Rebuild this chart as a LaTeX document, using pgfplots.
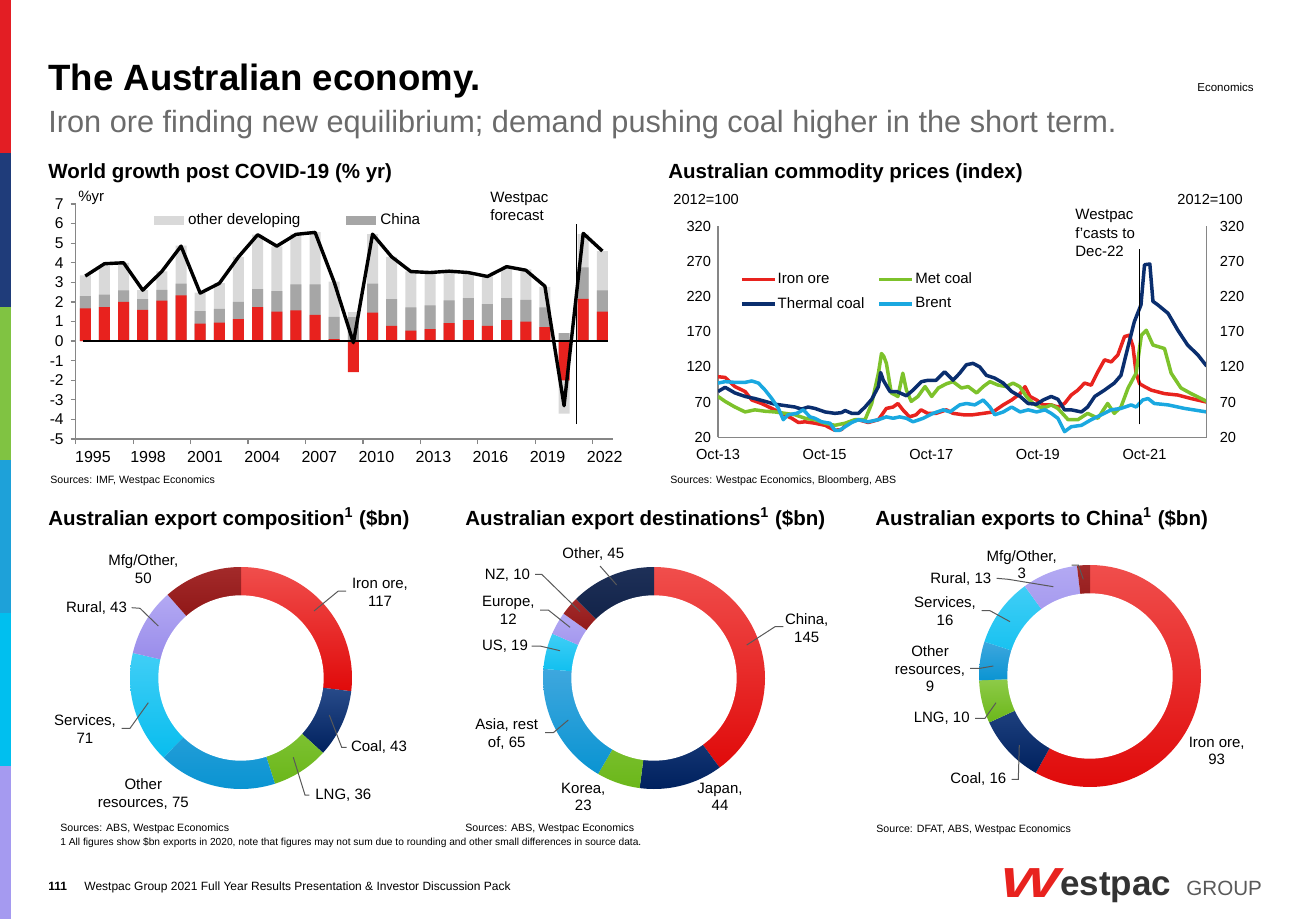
\documentclass[border=0pt]{standalone}
\usepackage{fontspec}
\setmainfont{Liberation Sans}
\usepackage{graphicx}
\usepackage{pgfplots}
\usepackage{pgfplotstable}
\pgfplotsset{compat=1.18}
\pgfplotsset{/pgf/number format/assume math mode=true}

\definecolor{wred}{HTML}{E8221E}
\definecolor{wnavy}{HTML}{0B2D6B}
\definecolor{wgreen}{HTML}{7CC12A}
\definecolor{wblue}{HTML}{1A9AD6}
\definecolor{wcyan}{HTML}{22C3F3}
\definecolor{wlav}{HTML}{A295EE}
\definecolor{wdred}{HTML}{8E1010}
\definecolor{wdnavy}{HTML}{0D1F45}
\definecolor{redT}{HTML}{F04E4C}\definecolor{redB}{HTML}{E00A0A}
\definecolor{navT}{HTML}{2E5190}\definecolor{navB}{HTML}{00215E}
\definecolor{grnT}{HTML}{90CC4B}\definecolor{grnB}{HTML}{6BB71A}
\definecolor{bluT}{HTML}{3EA7DE}\definecolor{bluB}{HTML}{0A94D2}
\definecolor{cyaT}{HTML}{40CEF6}\definecolor{cyaB}{HTML}{08BDEE}
\definecolor{lavT}{HTML}{B3A9F3}\definecolor{lavB}{HTML}{9284E8}
\definecolor{drdT}{HTML}{A32A2A}\definecolor{drdB}{HTML}{780000}
\definecolor{dnvT}{HTML}{1E3058}\definecolor{dnvB}{HTML}{051538}
\definecolor{lgray}{HTML}{D9D9D9}
\definecolor{mgray}{HTML}{A6A6A6}
\definecolor{axgray}{HTML}{868686}
\definecolor{subgray}{HTML}{6B6B6B}
\definecolor{leadgray}{HTML}{595959}
\definecolor{ironred}{HTML}{E8231E}
\definecolor{metgreen}{HTML}{7DC22B}
\definecolor{thnavy}{HTML}{0A2E6E}
\definecolor{brentblue}{HTML}{1AA8E0}
\definecolor{s1}{HTML}{E31E24}
\definecolor{s2}{HTML}{1F3C7A}
\definecolor{s3}{HTML}{80C342}
\definecolor{s4}{HTML}{1EA1D9}
\definecolor{s5}{HTML}{00BFEF}
\definecolor{s6}{HTML}{A59AF0}

\newcommand{\fs}[2]{\fontsize{#1}{#2}\selectfont}
% \seg{top colour}{bottom colour}{cumulative start}{cumulative end}{total}
\newcommand{\seg}[5]{\addplot[top color=#1, bottom color=#2, draw=none, domain=90-360*(#4)/(#5):90-360*(#3)/(#5), samples=60, variable=\t] ({cos(\t)},{sin(\t)}) -- (axis cs:0,0) -- cycle;}
\newcommand{\hole}{\addplot[fill=white, draw=none, domain=0:360, samples=120, variable=\t] ({0.745*cos(\t)},{0.745*sin(\t)}) -- cycle;}

\pgfplotstableread{
year red china other world
1995 1.67 2.30 3.35 3.32
1996 1.74 2.37 3.86 3.95
1997 2.00 2.59 4.00 4.00
1998 1.60 2.14 2.60 2.60
1999 2.06 2.62 3.56 3.56
2000 2.33 2.94 4.87 4.85
2001 0.89 1.53 2.47 2.45
2002 0.94 1.65 2.96 2.95
2003 1.12 2.00 4.30 4.30
2004 1.74 2.65 5.43 5.43
2005 1.50 2.55 4.83 4.85
2006 1.57 2.89 5.48 5.45
2007 1.34 2.89 5.57 5.55
2008 0.10 1.23 3.03 3.00
2009 -1.58 1.22 1.48 -0.08
2010 1.45 2.93 5.46 5.46
2011 0.78 2.14 4.30 4.30
2012 0.53 1.72 3.56 3.55
2013 0.61 1.82 3.42 3.50
2014 0.92 2.08 3.56 3.57
2015 1.07 2.20 3.44 3.50
2016 0.78 1.89 3.30 3.30
2017 1.07 2.20 3.69 3.80
2018 1.00 2.11 3.66 3.62
2019 0.71 1.72 2.77 2.80
2020 -2.00 0.41 -3.71 -3.30
2021 2.16 3.76 5.46 5.50
2022 1.51 2.59 4.60 4.60
}\bardata

\begin{document}
\begin{tikzpicture}
\begin{scope}[x=0.5pt,y=-0.5pt]
\path[use as bounding box] (0,0) rectangle (1300,919);
% side stripe
\fill[s1] (0,0) rectangle (11,153);
\fill[s2] (0,153) rectangle (11,307);
\fill[s3] (0,307) rectangle (11,460);
\fill[s4] (0,460) rectangle (11,613);
\fill[s5] (0,613) rectangle (11,766);
\fill[s6] (0,766) rectangle (11,919);
\coordinate (BarSW) at (75.7,439);
\coordinate (LineSW) at (718,437.3);
\coordinate (D1) at (241,678);
\coordinate (D2) at (654,678);
\coordinate (D3) at (1090,676);
% header
\node[anchor=base west, inner sep=0] at (48,91) {\fs{18.3}{22}\bfseries The Australian economy.};
\node[anchor=base west, inner sep=0, text=subgray] at (48,133) {\fs{15.35}{18}Iron ore finding new equilibrium; demand pushing coal higher in the short term.};
\node[anchor=base west, inner sep=0] at (1197,92) {\fs{5.75}{7}Economics};
% chart titles
\node[anchor=base west, inner sep=0] at (48,178.7) {\fs{10.25}{12}\bfseries World growth post COVID-19 (\% yr)};
\node[anchor=base west, inner sep=0] at (668,178.7) {\fs{10.25}{12}\bfseries Australian commodity prices (index)};
\node[anchor=base west, inner sep=0] at (48,525) {\fs{10.25}{12}\bfseries Australian export composition\textsuperscript{1} (\$bn)};
\node[anchor=base west, inner sep=0] at (465,525) {\fs{10.25}{12}\bfseries Australian export destinations\textsuperscript{1} (\$bn)};
\node[anchor=base west, inner sep=0] at (875,525) {\fs{10.25}{12}\bfseries Australian exports to China\textsuperscript{1} (\$bn)};
% sources
\node[anchor=base west, inner sep=0] at (50,483) {\fs{5.3}{6.5}Sources: IMF, Westpac Economics};
\node[anchor=base west, inner sep=0] at (670,483) {\fs{5.3}{6.5}Sources: Westpac Economics, Bloomberg, ABS};
\node[anchor=base west, inner sep=0] at (60,831) {\fs{5.3}{6.5}Sources: ABS, Westpac Economics};
\node[anchor=base west, inner sep=0] at (60,845) {\fs{5.1}{6.5}1 All figures show \$bn exports in 2020, note that figures may not sum due to rounding and other small differences in source data.};
\node[anchor=base west, inner sep=0] at (465,831) {\fs{5.3}{6.5}Sources: ABS, Westpac Economics};
\node[anchor=base west, inner sep=0] at (876,832) {\fs{5.3}{6.5}Source: DFAT, ABS, Westpac Economics};
% footer
\node[anchor=base west, inner sep=0] at (48,890) {\fs{6}{7}\bfseries 111};
\node[anchor=base west, inner sep=0] at (84,890) {\fs{6}{7}Westpac Group 2021 Full Year Results Presentation \& Investor Discussion Pack};
\node[anchor=base west, inner sep=0, text=wred] at (1000,897) {\scalebox{1.5}[1]{\fs{21}{21}\bfseries\itshape W}};
\node[anchor=base west, inner sep=0, text=black!80] at (1060,895) {\fs{17.5}{18}\bfseries estpac};
\node[anchor=base west, inner sep=0, text=black!65] at (1186,895) {\fs{10.3}{12}GROUP};
% bar chart annotations
\node[anchor=base west, inner sep=0] at (78,202) {\fs{7.5}{9}\%yr};
\node[anchor=base west, inner sep=0] at (490,203) {\fs{7.5}{9}Westpac};
\node[anchor=base west, inner sep=0] at (490,221) {\fs{7.5}{9}forecast};
% line chart annotations
\node[anchor=base west, inner sep=0] at (673,205) {\fs{7.3}{9}2012=100};
\node[anchor=base west, inner sep=0] at (1177,205) {\fs{7.3}{9}2012=100};
\node[anchor=base west, inner sep=0] at (1075,220) {\fs{7.5}{9}Westpac};
\node[anchor=base west, inner sep=0] at (1075,239) {\fs{7.5}{9}f'casts to};
\node[anchor=base west, inner sep=0] at (1075,257) {\fs{7.5}{9}Dec-22};
% donut labels
\begin{scope}[every node/.style={align=center, inner sep=0, font=\fs{7.5}{8.8}}]
\node at (143.3,569) {Mfg/Other,\\50};
\node at (96.5,608) {Rural, 43};
\node at (380,592.5) {Iron ore,\\117};
\node at (379,747.3) {Coal, 43};
\node at (343.3,795) {LNG, 36};
\node at (143.3,794) {Other\\resources, 75};
\node at (85,729) {Services,\\71};
\node[font=\fs{8.3}{10}] at (241.7,677) {Total, \$435bn};
\node at (593.3,554) {Other, 45};
\node at (507.5,575) {NZ, 10};
\node at (508.3,610.5) {Europe,\\12};
\node at (505,646.7) {US, 19};
\node at (506.7,734) {Asia, rest\\of, 65};
\node at (583.3,797) {Korea,\\23};
\node at (720,797) {Japan,\\44};
\node at (806.7,628) {China,\\145};
\node[font=\fs{8.3}{10.4}] at (655,679.7) {Goods exports\\\$363bn};
\node at (1021.7,564.7) {Mfg/Other,\\3};
\node at (960.8,579.3) {Rural, 13};
\node at (945,611) {Services,\\16};
\node at (930,669) {Other\\resources,\\9};
\node at (941.7,718.3) {LNG, 10};
\node at (978.3,779.3) {Coal, 16};
\node at (1216.7,751) {Iron ore,\\93};
\end{scope}
\end{scope}

% ===== World growth bar chart =====
\begin{axis}[
  at={(BarSW)}, anchor=south west, scale only axis,
  width=268.5pt, height=117.5pt,
  xmin=1994.5, xmax=2022.54, ymin=-5, ymax=7,
  axis x line*=bottom, axis y line*=left,
  axis line style={draw=axgray, line width=0.6pt},
  ytick={-5,...,7}, yticklabels={-5,-4,-3,-2,-1,0,1,2,3,4,5,6,7},
  xtick={1995.4,1998.28,2001.25,2004.24,2007.22,2010.2,2013.18,2016.16,2019.14,2022.12},
  xticklabels={1995,1998,2001,2004,2007,2010,2013,2016,2019,2022},
  xtick style={draw=none},
  ytick style={draw=axgray, line width=0.6pt},
  extra x ticks={1994.5,1997.5,2000.5,2003.5,2006.5,2009.5,2012.5,2015.5,2018.5,2021.5},
  extra x tick labels={,,,,,,,,,},
  extra x tick style={xtick style={draw=axgray, line width=0.6pt}},
  tick align=outside, major tick length=2.5pt,
  xticklabel style={font=\fs{8}{9}},
  yticklabel style={font=\fs{7.8}{9}},
  clip=false,
  legend columns=2,
  legend style={at={(0.134,0.997)}, anchor=north west, draw=none, fill=none, font=\fs{7.6}{9},
    /tikz/every even column/.append style={column sep=21pt}},
  legend image code/.code={\fill[#1] (0pt,-2.2pt) rectangle (15pt,2.2pt);},
]
\addplot[ybar, bar width=5.5pt, bar shift=0pt, fill=lgray, draw=none, forget plot] table[x=year, y=other] {\bardata};
\addplot[ybar, bar width=5.5pt, bar shift=0pt, fill=mgray, draw=none, forget plot] table[x=year, y=china] {\bardata};
\addplot[ybar, bar width=5.5pt, bar shift=0pt, fill=wred, draw=none, forget plot] table[x=year, y=red] {\bardata};
\addplot[black, line width=1.2pt, forget plot] coordinates {(1994.9,0) (2022.3,0)};
\addplot[black, line width=1.7pt, line join=round, forget plot] table[x=year, y=world] {\bardata};
\addplot[black, line width=0.6pt, forget plot] coordinates {(2020.63,-4.24) (2020.63,6.0)};
\addlegendimage{fill=lgray, draw=none}
\addlegendentry{other developing}
\addlegendimage{fill=mgray, draw=none}
\addlegendentry{China}
\end{axis}

% ===== Commodity prices line chart =====
\begin{axis}[
  at={(LineSW)}, anchor=south west, scale only axis,
  width=244.35pt, height=105.65pt,
  xmin=0, xmax=110, ymin=20, ymax=320,
  axis x line*=bottom, axis y line*=left,
  axis line style={draw=axgray, line width=0.6pt},
  xtick={0,24,48,72,96}, xticklabels={Oct-13,Oct-15,Oct-17,Oct-19,Oct-21},
  ytick={20,70,120,170,220,270,320}, yticklabels={20,70,120,170,220,270,320},
  major tick length=0pt,
  tick label style={font=\fs{7.3}{9}},
  xticklabel style={yshift=-2.5pt},
  legend columns=2,
  legend cell align=left,
  legend style={at={(0.032,0.82)}, anchor=north west, draw=none, fill=none, font=\fs{7.5}{9},
    nodes={inner xsep=0.6pt},
    /tikz/every even column/.append style={column sep=6pt}, row sep=1.5pt},
  legend image code/.code={\draw[#1] (0pt,0pt) -- (16.5pt,0pt);},
]
\addplot[ironred, line width=1.75pt, line join=round] coordinates {(0,106)(1.6,105)(3.8,92)(6.1,85)(7.6,73)(9.8,68)(12.1,61)(14.3,54)(16.6,47)(18.1,41)(19.6,42)(21.8,40)(24.1,37)(26.3,30)(27.8,31)(29.3,41)(31.6,45)(33.8,41)(36.1,45)(37.9,61)(39.4,63)(40.5,68)(41.6,59)(43.1,49)(44.6,52)(45.7,59)(47.2,54)(49.1,54)(51.4,59)(52.9,54)(55.2,52)(57.4,52)(59.7,54)(61.9,56)(64.2,66)(66.1,73)(68.0,82)(69.1,92)(70.2,78)(71.7,73)(73.2,66)(75.0,66)(76.5,63)(78.0,68)(79.5,80)(81.0,87)(82.5,97)(84.0,94)(85.5,113)(87.0,130)(88.5,127)(90.0,137)(91.5,163)(92.6,165)(93.4,149)(94.1,111)(94.9,96)(96.0,92)(97.5,87)(100.5,82)(103.5,80)(106.5,75)(110,70)};
\addlegendentry{Iron ore}
\addplot[metgreen, line width=1.75pt, line join=round] coordinates {(0,78)(1.6,71)(3.8,63)(6.1,56)(8.3,59)(10.6,57)(12.8,56)(15.1,54)(17.3,52)(19.6,47)(21.8,45)(24.1,40)(26.3,37)(28.6,40)(30.8,45)(33.1,45)(34.6,68)(36.1,111)(36.8,139)(37.3,135)(37.9,125)(39.0,83)(40.5,78)(41.6,111)(42.4,87)(43.5,71)(45.0,78)(46.6,92)(48.1,78)(49.6,90)(51.4,96)(52.9,99)(54.8,90)(56.3,92)(58.2,83)(59.7,92)(61.2,99)(63.1,94)(64.9,92)(66.4,97)(67.9,92)(69.4,78)(70.9,68)(72.4,63)(73.9,63)(75.0,66)(76.5,61)(78.8,45)(81.0,45)(83.2,54)(85.5,47)(87.7,68)(89.2,54)(90.7,63)(92.3,90)(94.1,111)(95.3,165)(96.4,172)(97.9,151)(100.5,146)(102.0,111)(104.2,90)(106.5,82)(110,71)};
\addlegendentry{Met coal}
\addplot[thnavy, line width=1.75pt, line join=round] coordinates {(0,85)(1.6,91)(3.8,83)(6.1,78)(8.3,75)(10.6,71)(12.8,67)(15.1,65)(17.3,63)(18.8,60)(20.3,63)(21.8,61)(24.1,56)(26.3,54)(27.8,55)(28.6,58)(30.1,54)(31.6,54)(33.1,63)(34.6,74)(36.1,92)(36.6,112)(37.2,101)(38.7,85)(40.2,85)(42.4,79)(43.9,87)(45.8,99)(47.3,101)(49.1,101)(51.0,113)(52.9,101)(54.4,111)(55.9,123)(57.4,125)(58.9,120)(60.4,108)(62.3,104)(64.2,97)(66.1,85)(68.0,78)(69.8,68)(71.7,67)(73.2,73)(75.0,78)(76.5,74)(78.0,59)(79.5,59)(81.8,56)(83.2,63)(84.8,78)(87.0,87)(89.2,97)(90.7,108)(92.3,149)(93.7,184)(95.2,208)(96.0,265)(97.2,266)(97.9,213)(99.0,208)(101.3,196)(103.5,172)(105.7,151)(108.0,137)(110,121)};
\addlegendentry{Thermal coal}
\addplot[brentblue, line width=1.75pt, line join=round] coordinates {(0,97)(1.6,99)(3.8,98)(6.1,98)(7.6,100)(9.1,97)(10.6,87)(12.1,75)(13.6,61)(14.7,45)(15.8,52)(17.7,54)(19.2,59)(20.7,49)(21.8,47)(23.3,42)(25.2,40)(26.3,30)(27.4,30)(28.6,35)(30.1,41)(31.6,45)(33.8,42)(36.1,45)(37.9,49)(39.4,47)(40.9,49)(42.4,47)(43.9,42)(46.2,47)(48.4,54)(50.7,59)(52.2,56)(54.4,66)(55.9,68)(57.8,66)(59.7,73)(61.2,63)(62.3,52)(64.2,56)(66.1,63)(68.0,56)(69.8,59)(71.7,56)(73.6,59)(75.0,54)(76.5,47)(78.0,28)(79.5,35)(81.8,37)(84.0,45)(86.3,52)(88.5,59)(90.7,61)(93.0,66)(94.1,63)(95.6,73)(96.8,75)(98.2,68)(101.3,66)(105.0,61)(110,56)};
\addlegendentry{Brent}
\addplot[black, line width=0.6pt, forget plot] coordinates {(94.9,38.5) (94.9,287.3)};
\end{axis}
\begin{axis}[
  at={(LineSW)}, anchor=south west, scale only axis,
  width=244.35pt, height=105.65pt,
  xmin=0, xmax=110, ymin=20, ymax=320,
  axis y line*=right, axis x line=none,
  axis line style={draw=axgray, line width=0.6pt},
  ytick={20,70,120,170,220,270,320}, yticklabels={20,70,120,170,220,270,320},
  major tick length=0pt,
  yticklabel style={font=\fs{7.3}{9}, xshift=3pt},
]
\addplot[draw=none, forget plot] coordinates {(0,20)};
\end{axis}

% ===== Donuts =====
\begin{axis}[at={(D1)}, anchor=center, scale only axis, width=111pt, height=111pt,
  xmin=-1, xmax=1, ymin=-1, ymax=1, hide axis, clip=false]
\seg{redT}{redB}{0}{117}{435}
\seg{navT}{navB}{117}{160}{435}
\seg{grnT}{grnB}{160}{196}{435}
\seg{bluT}{bluB}{196}{271}{435}
\seg{cyaT}{cyaB}{271}{342}{435}
\seg{lavT}{lavB}{342}{385}{435}
\seg{drdT}{drdB}{385}{435}{435}
\hole
\end{axis}
\begin{axis}[at={(D2)}, anchor=center, scale only axis, width=111pt, height=111pt,
  xmin=-1, xmax=1, ymin=-1, ymax=1, hide axis, clip=false]
\seg{redT}{redB}{0}{145}{363}
\seg{navT}{navB}{145}{189}{363}
\seg{grnT}{grnB}{189}{212}{363}
\seg{bluT}{bluB}{212}{277}{363}
\seg{cyaT}{cyaB}{277}{296}{363}
\seg{lavT}{lavB}{296}{308}{363}
\seg{drdT}{drdB}{308}{318}{363}
\seg{dnvT}{dnvB}{318}{363}{363}
\hole
\end{axis}
\begin{axis}[at={(D3)}, anchor=center, scale only axis, width=111pt, height=111pt,
  xmin=-1, xmax=1, ymin=-1, ymax=1, hide axis, clip=false]
\seg{redT}{redB}{0}{93}{160}
\seg{navT}{navB}{93}{109}{160}
\seg{grnT}{grnB}{109}{119}{160}
\seg{bluT}{bluB}{119}{128}{160}
\seg{cyaT}{cyaB}{128}{144}{160}
\seg{lavT}{lavB}{144}{157}{160}
\seg{drdT}{drdB}{157}{160}{160}
\hole
\end{axis}

% leader lines
\begin{scope}[x=0.5pt,y=-0.5pt, draw=leadgray, line width=0.5pt]
\draw (131.7,607.7)--(140,608.3)--(158.3,626);
\draw (346,591)--(338.3,591)--(314,611);
\draw (346.7,747.3)--(341.7,747.3)--(329.3,715);
\draw (309.3,795)--(305,795)--(293.3,757.3);
\draw (121.7,728.3)--(130,728.3)--(148.3,702.7);
\draw (600,566)--(616.7,585);
\draw (535,574.3)--(541.7,574.3)--(580,611.7);
\draw (540,610)--(548.3,610)--(570,627.3);
\draw (531.7,646)--(540,646)--(560,650.7);
\draw (545,732.7)--(553.3,732.7)--(568.3,720);
\draw (783.3,626.7)--(775,626.7)--(746.7,645);
\draw (1071.7,565)--(1078.3,565)--(1083.3,579.3);
\draw (996.7,578.3)--(1008.3,579.3)--(1053.3,586.7);
\draw (981.7,610.7)--(990,610.7)--(1010,621.7);
\draw (970,668.3)--(980,668.3)--(993.3,666);
\draw (975,718.3)--(985,718.3)--(996,702.7);
\draw (1011.7,779.3)--(1018.3,779.3)--(1019.3,745);
\end{scope}
\end{tikzpicture}
\end{document}
